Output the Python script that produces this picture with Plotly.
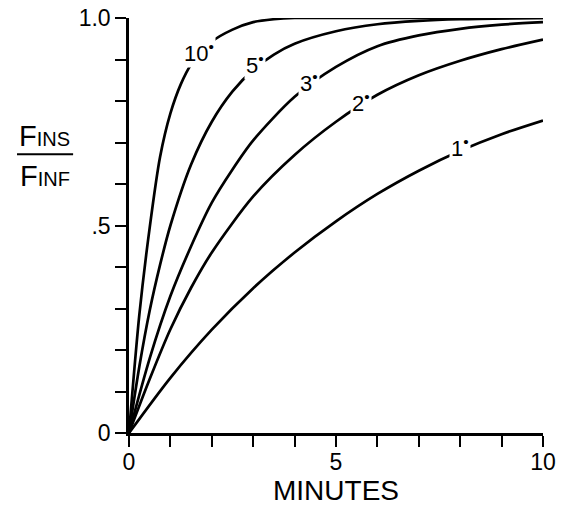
import numpy as np
import plotly.graph_objects as go

# Washin of inspired anaesthetic: F_INS / F_INF against time, one curve per fresh-gas flow
flow_labels = ["10", "5", "3", "2", "1"]

minutes_10 = [0, 0.25, 0.5, 0.75, 1, 1.25, 1.5, 2, 2.5, 3, 3.5, 4, 5, 10]
ratio_10 = [0, 0.285, 0.495, 0.665, 0.77, 0.84, 0.888, 0.943, 0.972, 0.99, 0.997, 1.0, 1.0, 1.0]

minutes_5 = [0, 0.25, 0.5, 0.75, 1, 1.5, 2, 2.5, 3, 3.5, 4, 5, 6, 7, 8, 10]
ratio_5 = [0, 0.16, 0.295, 0.405, 0.50, 0.647, 0.75, 0.823, 0.875, 0.912, 0.938, 0.968, 0.985, 0.993, 0.997, 1.0]

minutes_3 = [0, 0.5, 1, 1.5, 2, 2.5, 3, 4, 5, 6, 7, 8, 9, 10]
ratio_3 = [0, 0.18, 0.33, 0.45, 0.555, 0.635, 0.705, 0.81, 0.882, 0.932, 0.958, 0.974, 0.984, 0.99]

minutes_2 = [0, 0.5, 1, 1.5, 2, 3, 4, 5, 6, 7, 8, 9, 10]
ratio_2 = [0, 0.13, 0.25, 0.35, 0.435, 0.57, 0.67, 0.75, 0.815, 0.862, 0.897, 0.925, 0.948]

minutes_1 = [0, 1, 2, 3, 4, 5, 6, 7, 8, 9, 10]
ratio_1 = [0, 0.133, 0.249, 0.349, 0.435, 0.510, 0.576, 0.632, 0.680, 0.720, 0.753]

# time at which each curve carries its flow label
label_minutes = [1.68, 3.05, 4.35, 5.6, 8.0]

x_tick_vals = [0, 5, 10]
x_tick_text = ["0", "5", "10"]
y_tick_vals = [0, 0.5, 1.0]
y_tick_text = ["0", ".5", "1.0"]
x_minor_step = 1
y_minor_step = 0.1

FONT = "Liberation Sans, Arial, sans-serif"

series = [
    (minutes_10, ratio_10),
    (minutes_5, ratio_5),
    (minutes_3, ratio_3),
    (minutes_2, ratio_2),
    (minutes_1, ratio_1),
]

fig = go.Figure()
for (t, f), name in zip(series, flow_labels):
    fig.add_trace(go.Scatter(
        x=t, y=f, mode="lines", name=name,
        line=dict(color="black", width=2.7, shape="spline", smoothing=0.8),
        hoverinfo="skip", showlegend=False,
    ))

# flow labels sit on their curves, on a white ground that breaks the line
for (t, f), name, lt in zip(series, flow_labels, label_minutes):
    fig.add_annotation(
        x=lt, y=float(np.interp(lt, t, f)), xref="x", yref="y",
        text=name + "<sup>•</sup>", showarrow=False, yshift=4,
        font=dict(family=FONT, size=22, color="black"),
        bgcolor="white", borderpad=1,
    )

axis_common = dict(
    showgrid=False, zeroline=False, showline=True, automargin=False,
    linecolor="black", linewidth=2.5,
    tickcolor="black", tickwidth=2, ticklen=11,
)


def minor(step, side):
    return dict(dtick=step, tick0=0, ticks=side, ticklen=11, tickwidth=2,
                tickcolor="black", showgrid=False)


fig.update_layout(
    width=564, height=508,
    margin=dict(l=129, r=21, t=18, b=75),
    paper_bgcolor="white", plot_bgcolor="white",
    font=dict(family=FONT, color="black"),
    xaxis=dict(
        range=[0, 10], tickvals=x_tick_vals, ticktext=x_tick_text,
        ticks="outside", tickfont=dict(size=23), ticklabelstandoff=-4,
        minor=minor(x_minor_step, "outside"),
        title=dict(text="MINUTES", font=dict(size=28), standoff=4),
        **axis_common,
    ),
    yaxis=dict(
        range=[0, 1], tickvals=y_tick_vals, ticktext=y_tick_text,
        ticks="outside", tickfont=dict(size=23), minor=minor(y_minor_step, "outside"),
        **axis_common,
    ),
    xaxis2=dict(
        range=[0, 10], tickvals=x_tick_vals, overlaying="x", side="top",
        anchor="y", ticks="inside", showticklabels=False,
        minor=minor(x_minor_step, "inside"), **axis_common,
    ),
    yaxis2=dict(
        range=[0, 1], tickvals=y_tick_vals, overlaying="y", side="right",
        anchor="x", ticks="inside", showticklabels=False,
        minor=minor(y_minor_step, "inside"), **axis_common,
    ),
)

# y-axis title written as the fraction F_INS / F_INF
fig.add_annotation(
    x=-0.203, y=0.715, xref="paper", yref="paper", showarrow=False,
    text="F<span style='font-size:20px'>INS</span>",
    font=dict(family=FONT, size=29, color="black"), xanchor="center", yanchor="middle",
)
fig.add_annotation(
    x=-0.203, y=0.62, xref="paper", yref="paper", showarrow=False,
    text="F<span style='font-size:20px'>INF</span>",
    font=dict(family=FONT, size=29, color="black"), xanchor="center", yanchor="middle",
)
fig.add_shape(
    type="line", xref="paper", yref="paper",
    x0=-0.2705, x1=-0.135, y0=0.6716, y1=0.6716,
    line=dict(color="black", width=2),
)

fig.write_html("out.html")
